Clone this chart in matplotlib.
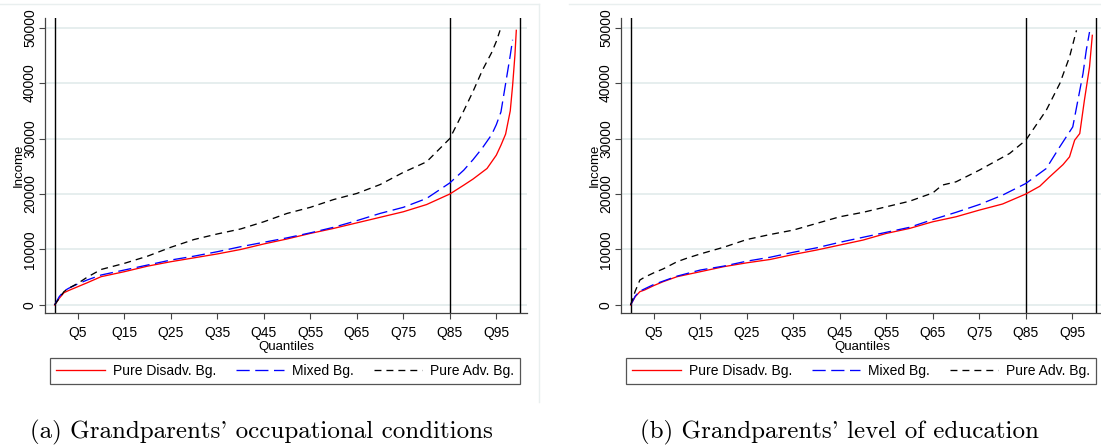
import matplotlib
matplotlib.use("Agg")
import numpy as np
import matplotlib.pyplot as plt
from matplotlib.lines import Line2D

plt.rcParams['font.family'] = ['Liberation Sans', 'DejaVu Sans']
plt.rcParams['lines.scale_dashes'] = False

# quantile positions and income (thousands)
# panel (a): grandparents' occupational conditions
red_a_q = [0, 1, 2, 3, 5, 7, 10, 15, 20, 25, 30, 35, 40, 45, 50, 55, 60, 65, 70, 75, 80, 85, 88, 90, 93, 95, 96, 97, 98, 98.5, 99, 99.3]
red_a = [0, 1.2, 2.2, 2.6, 3.3, 4.0, 5.1, 6.0, 7.0, 7.8, 8.5, 9.2, 10.0, 11.0, 11.9, 12.9, 13.8, 14.8, 15.8, 16.8, 18.1, 20.0, 21.6, 22.7, 24.6, 27.0, 28.8, 30.8, 35.0, 39.5, 45.0, 49.5]
blue_a_q = [0, 1, 2, 3, 5, 7, 10, 15, 20, 25, 30, 35, 40, 45, 50, 55, 60, 65, 70, 75, 80, 85, 88, 90, 92, 94, 95, 96, 97, 98, 98.5]
blue_a = [0, 1.5, 2.5, 3.0, 3.8, 4.5, 5.4, 6.3, 7.2, 8.1, 8.8, 9.6, 10.5, 11.3, 12.1, 13.0, 14.0, 15.2, 16.5, 17.6, 19.2, 22.0, 24.3, 26.2, 28.3, 30.7, 32.5, 34.8, 39.9, 45.0, 47.8]
black_a_q = [0, 1, 2, 3, 5, 7, 10, 15, 20, 25, 30, 35, 40, 45, 50, 55, 60, 65, 70, 75, 80, 85, 88, 90, 92, 94, 95, 95.8]
black_a = [0, 1.2, 2.4, 3.0, 3.9, 5.0, 6.4, 7.5, 8.8, 10.4, 11.8, 12.8, 13.7, 15.0, 16.5, 17.6, 19.0, 20.1, 21.7, 23.9, 25.8, 30.0, 35.0, 38.5, 42.3, 45.5, 47.5, 49.5]

# panel (b): grandparents' level of education
red_b_q = [0, 1, 2, 3, 5, 7, 10, 15, 20, 25, 30, 35, 40, 45, 50, 55, 60, 65, 70, 75, 80, 85, 88, 90, 93, 94.4, 95.5, 96.6, 97.6, 98.7, 99.3]
red_b = [0, 1.5, 2.4, 2.7, 3.5, 4.2, 5.1, 6.0, 6.9, 7.6, 8.2, 9.1, 9.9, 10.8, 11.7, 12.9, 13.8, 15.0, 15.9, 17.1, 18.2, 20.0, 21.4, 23.0, 25.3, 26.7, 29.7, 30.9, 36.9, 42.9, 48.6]
blue_b_q = [0, 1, 2, 3, 5, 7, 10, 15, 20, 25, 30, 35, 40, 45, 50, 55, 60, 65, 70, 75, 80, 85, 89.4, 92.3, 95.1, 96.2, 97.3, 98, 98.7]
blue_b = [0, 1.6, 2.5, 2.9, 3.7, 4.3, 5.2, 6.3, 7.0, 7.9, 8.6, 9.5, 10.3, 11.3, 12.2, 13.1, 14.0, 15.4, 16.7, 18.1, 19.8, 21.9, 24.6, 28.5, 32.1, 36.9, 41.7, 45.9, 49.2]
black_b_q = [0, 1, 2, 3, 5, 7, 10, 12, 15, 20, 25, 30, 35, 40, 45, 50, 55, 60, 65, 67, 70, 75, 81.5, 85, 89.4, 92.3, 94.4, 95.9]
black_b = [0, 2.5, 4.5, 5.0, 5.8, 6.5, 7.8, 8.4, 9.2, 10.4, 11.8, 12.7, 13.5, 14.7, 15.9, 16.7, 17.7, 18.7, 20.2, 21.6, 22.2, 24.3, 27.3, 29.7, 35.1, 39.9, 44.7, 49.5]

xticks = [5, 15, 25, 35, 45, 55, 65, 75, 85, 95]
xticklabels = ["Q%d" % t for t in xticks]
yticks = [0, 10000, 20000, 30000, 40000, 50000]
vlines = [0, 85, 100]
labels = ["Pure Disadv. Bg.", "Mixed Bg.", "Pure Adv. Bg."]
captions = ["(a) Grandparents' occupational conditions", "(b) Grandparents' level of education"]

W, H = 1101, 447
fig = plt.figure(figsize=(W / 100, H / 100), dpi=100)

panels = [
    (45.3, [(red_a_q, red_a), (blue_a_q, blue_a), (black_a_q, black_a)]),
    (621.3, [(red_b_q, red_b), (blue_b_q, blue_b), (black_b_q, black_b)]),
]
styles = [
    dict(color="#ff0000", lw=0.95, ls="-"),
    dict(color="#0000ff", lw=0.95, dashes=(9.5, 4)),
    dict(color="black", lw=0.95, dashes=(5, 3.6)),
]

for i, (x0, series) in enumerate(panels):
    ax = fig.add_axes([x0 / W, (H - 313.3) / H, 481.7 / W, 295 / H])
    for sp in ["top", "right"]:
        ax.spines[sp].set_visible(False)
    for sp in ["left", "bottom"]:
        ax.spines[sp].set_color("#444444")
        ax.spines[sp].set_linewidth(0.9)
    for y in yticks:
        ax.axhline(y, color="#e6eeee", lw=1.4, zorder=0)
    for v in vlines:
        ax.axvline(v, color="black", lw=1.0, zorder=1)
    handles = []
    for (q, vals), st, lab in zip(series, styles, labels):
        h, = ax.plot(q, np.array(vals) * 1000, label=lab, zorder=3, **st)
        handles.append(h)
    ax.set_xlim(-2, 101.6)
    ax.set_ylim(-1500, 51670)
    ax.set_xticks(xticks)
    ax.set_xticklabels(xticklabels)
    ax.set_yticks(yticks)
    ax.set_yticklabels([str(y) for y in yticks], rotation=90, va="center")
    ax.tick_params(direction="out", length=4.5, width=0.8, color="#444444",
                   labelsize=10, pad=4.5)
    ax.tick_params(axis="y", pad=1.5)
    ax.set_xlabel("Quantiles", fontsize=9.5, labelpad=1)
    ax.set_ylabel("Income", fontsize=9.5, labelpad=-1)
    leg = ax.legend(handles=handles, ncol=3, mode="expand", loc="lower left",
                    bbox_to_anchor=(0.0098, -0.2397, 0.9757, 0.0872),
                    borderaxespad=0, fontsize=10, handlelength=3.5,
                    handletextpad=0.55, borderpad=0.45, fancybox=False,
                    framealpha=1, edgecolor="#555555")
    leg.get_frame().set_linewidth(0.9)

# captions
fig.text(30 / W, (H - 438) / H, captions[0], family="cmr10", fontsize=18, va="baseline")
fig.text(640 / W, (H - 438) / H, captions[1], family="cmr10", fontsize=18, va="baseline")

# faint borders of the exported panels
fig.add_artist(Line2D([0, 539 / W], [(H - 4) / H] * 2, color="#e9efef", lw=1))
fig.add_artist(Line2D([539 / W] * 2, [(H - 4) / H, (H - 402) / H], color="#e9efef", lw=1))
fig.add_artist(Line2D([569 / W, 1], [(H - 4) / H] * 2, color="#e9efef", lw=1))

fig.savefig("out.png", dpi=100)
